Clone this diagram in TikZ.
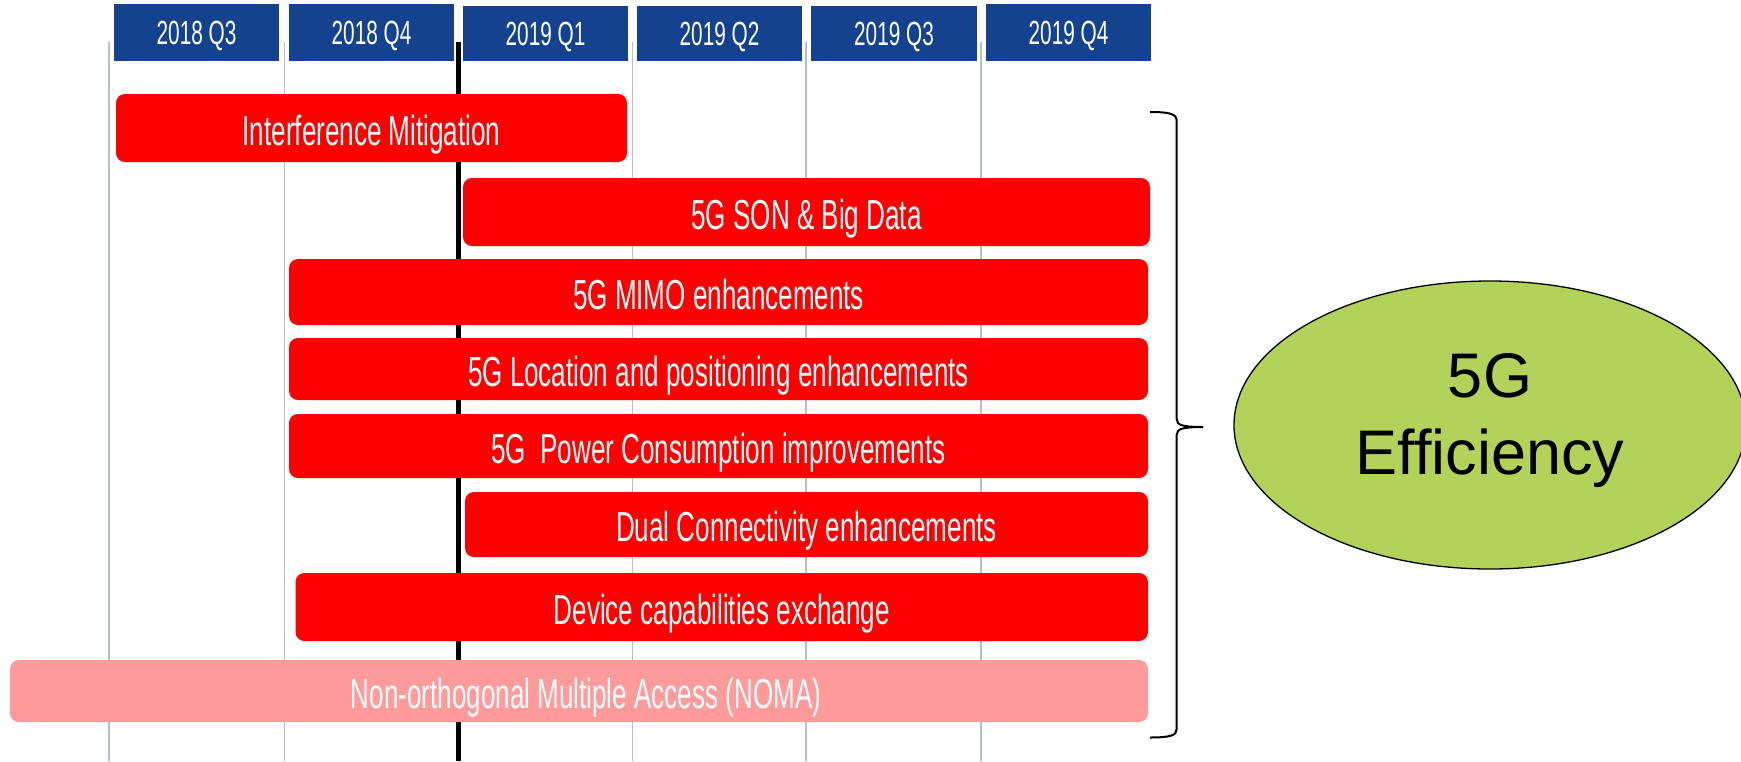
\documentclass[tikz,border=0pt]{standalone}
\usepackage{fontspec}
\setmainfont{Liberation Sans}
\newfontfamily\agency[FakeStretch=0.62]{Liberation Sans}
\usetikzlibrary{shapes.geometric}
\definecolor{hdrblue}{RGB}{21,66,143}
\definecolor{barred}{RGB}{255,0,0}
\definecolor{barpink}{RGB}{255,155,155}
\definecolor{gridgray}{RGB}{182,190,202}
\definecolor{effgreen}{RGB}{178,210,90}
\tikzset{
  hdr/.style={fill=hdrblue, inner sep=0pt, text=white,
    font=\agency\fontsize{33.5}{40}\selectfont, text height=24pt, text depth=0pt},
  bar/.style={fill=barred, rounded corners=9pt, inner sep=0pt, text=white,
    font=\agency\fontsize{42}{50}\selectfont, text height=34pt, text depth=0pt},
  gridline/.style={draw=gridgray, line width=1.1pt},
  nowline/.style={draw=black, line width=5.6pt},
  bracepath/.style={draw=black, line width=2pt},
}
\begin{document}
\begin{tikzpicture}[x=1pt,y=-1pt]
\useasboundingbox (0,0) rectangle (1741,761);
% grid lines
\foreach \gx in {109,284.3,632.3,806,981}{
  \draw[gridline] (\gx,42) -- (\gx,761);
}
\draw[nowline] (458.5,42) -- (458.5,761);
% headers
\node[hdr, minimum width=165pt, minimum height=57pt] (h1) at (196.5,32.5) {2018 Q3};
\node[hdr, minimum width=165pt, minimum height=57pt] (h2) at (371.5,32.5) {2018 Q4};
\node[hdr, minimum width=165pt, minimum height=55pt] (h3) at (545.5,33.5) {2019 Q1};
\node[hdr, minimum width=165pt, minimum height=55pt] (h4) at (719.5,33.5) {2019 Q2};
\node[hdr, minimum width=166pt, minimum height=55pt] (h5) at (894,33.5) {2019 Q3};
\node[hdr, minimum width=165pt, minimum height=57pt] (h6) at (1068.5,32.5) {2019 Q4};
% bars
\node[bar, minimum width=511pt, minimum height=68pt] (im) at (371.5,128) {Interference Mitigation};
\node[bar, minimum width=687pt, minimum height=68pt] (son) at (806.5,212) {5G SON \& Big Data};
\node[bar, minimum width=859pt, minimum height=66pt] (mimo) at (718.5,292) {5G MIMO enhancements};
\node[bar, minimum width=859pt, minimum height=62pt] (loc) at (718.5,369) {5G Location and positioning enhancements};
\node[bar, minimum width=859pt, minimum height=64pt] (pow) at (718.5,446) {5G\ \ Power Consumption improvements};
\node[bar, minimum width=683pt, minimum height=65pt] (dual) at (806.5,524.5) {Dual Connectivity enhancements};
\node[bar, minimum width=852.5pt, minimum height=68pt] (dev) at (721.75,607) {Device capabilities exchange};
\node[bar, fill=barpink, minimum width=1138pt, minimum height=62pt] (noma) at (579,691) {\hspace*{14pt}Non-orthogonal Multiple Access (NOMA)};
% brace
\coordinate (btop) at (1150,112);
\coordinate (bbot) at (1150,737.5);
\coordinate (btip) at (1203,427);
\draw[bracepath] (btop) .. controls (1170,112) and (1176.7,114) .. (1176.7,121)
  -- (1176.7,419) .. controls (1176.7,425) and (1182,427) .. (btip);
\draw[bracepath] (btip) .. controls (1182,427) and (1176.7,429) .. (1176.7,435)
  -- (1176.7,729) .. controls (1176.7,735.5) and (1170,737.5) .. (bbot);
% ellipse
\node[ellipse, draw=black, line width=1.3pt, fill=effgreen, inner sep=0pt,
  minimum width=512pt, minimum height=288pt, align=center,
  font=\fontsize{63}{77}\selectfont, text depth=23pt] (eff) at (1490,425) {5G\\Efficiency};
\end{tikzpicture}
\end{document}
